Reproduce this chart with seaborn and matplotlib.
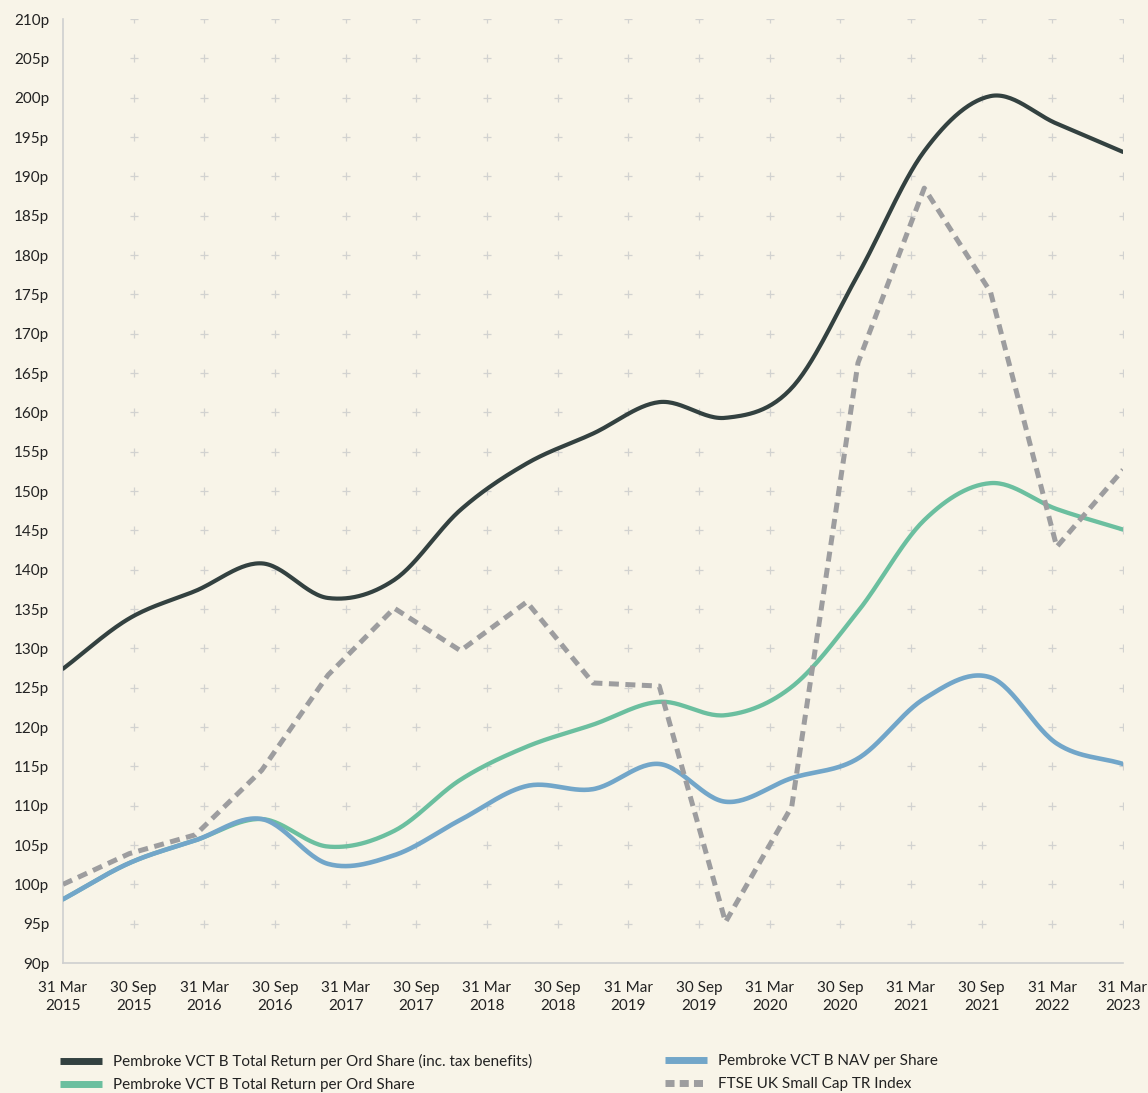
#!/usr/bin/env python3
"""
Pembroke VCT B performance chart - half-yearly returns vs FTSE UK Small Cap
"""

import numpy as np
import pandas as pd
import matplotlib
matplotlib.use("Agg")
import matplotlib.pyplot as plt
from matplotlib.lines import Line2D
import seaborn as sns

# X-axis labels (the 30 Sep 2022 label is absent in the original)
DATE_LABELS = [
    "31 Mar\n2015", "30 Sep\n2015", "31 Mar\n2016", "30 Sep\n2016",
    "31 Mar\n2017", "30 Sep\n2017", "31 Mar\n2018", "30 Sep\n2018",
    "31 Mar\n2019", "30 Sep\n2019", "31 Mar\n2020", "30 Sep\n2020",
    "31 Mar\n2021", "30 Sep\n2021", "31 Mar\n2022", "31 Mar\n2023",
]

# Half-yearly data points, Mar 2015 .. Mar 2023 (pence)
PERIODS = np.arange(17)
TOTAL_RETURN_TAX = [127.4, 133.8, 137.3, 140.8, 136.4, 138.7, 147.6, 153.5, 157.3,
                    161.3, 159.3, 163.1, 177.5, 193.2, 200.2, 196.7, 193.1]
TOTAL_RETURN = [98.1, 102.7, 105.6, 108.3, 104.8, 106.8, 113.3, 117.5, 120.3,
                123.2, 121.5, 125.1, 134.7, 146.3, 151.0, 147.7, 145.1]
NAV = [98.1, 102.7, 105.6, 108.3, 102.6, 103.7, 108.2, 112.5, 112.1,
       115.3, 110.5, 113.5, 116.0, 123.6, 126.3, 117.9, 115.3]
FTSE_SMALL_CAP = [100.0, 103.9, 106.3, 114.5, 126.6, 135.1, 129.7, 135.9, 125.6,
                  125.2, 95.2, 109.9, 166.3, 188.5, 175.3, 142.9, 152.7]

SERIES_NAMES = [
    "Pembroke VCT B Total Return per Ord Share (inc. tax benefits)",
    "Pembroke VCT B Total Return per Ord Share",
    "Pembroke VCT B NAV per Share",
    "FTSE UK Small Cap TR Index",
]

BG = "#f8f4e8"
DARK = "#334140"
GREEN = "#6bbf9f"
BLUE = "#72a6c9"
GREY = "#9d9d9f"
AXIS = "#cfcfcf"


def smooth_curve(x, y, steps=30):
    """Catmull-Rom style cubic through the points, for drawing only"""
    x = np.asarray(x, float)
    y = np.asarray(y, float)
    m = np.gradient(y)
    xs, ys = [], []
    for i in range(len(x) - 1):
        t = np.linspace(0, 1, steps, endpoint=False)
        h00 = 2 * t**3 - 3 * t**2 + 1
        h10 = t**3 - 2 * t**2 + t
        h01 = -2 * t**3 + 3 * t**2
        h11 = t**3 - t**2
        xs.append(x[i] + t * (x[i + 1] - x[i]))
        ys.append(h00 * y[i] + h10 * m[i] + h01 * y[i + 1] + h11 * m[i + 1])
    xs.append([x[-1]])
    ys.append([y[-1]])
    return pd.DataFrame({"x": np.concatenate(xs), "y": np.concatenate(ys)})


def main():
    sns.set_style("white")
    plt.rcParams["font.family"] = ["Lato", "DejaVu Sans"]

    fig = plt.figure(figsize=(11.48, 10.93), dpi=100, facecolor=BG)
    ax = fig.add_axes([63 / 1148, 130 / 1093, 1060 / 1148, 944 / 1093])
    ax.set_facecolor(BG)

    # "+" grid marks at tick intersections
    tick_pos = np.linspace(0, 16, len(DATE_LABELS))
    y_ticks = np.arange(90, 211, 5)
    gx, gy = np.meshgrid(tick_pos[1:], y_ticks[1:])
    ax.scatter(gx.ravel(), gy.ravel(), marker="+", s=36, color="#d2d2d0",
               linewidths=0.9, zorder=1)

    sns.lineplot(data=smooth_curve(PERIODS, TOTAL_RETURN_TAX), x="x", y="y",
                 color=DARK, lw=3.0, ax=ax, sort=False, estimator=None, zorder=3)
    sns.lineplot(data=smooth_curve(PERIODS, TOTAL_RETURN), x="x", y="y",
                 color=GREEN, lw=3.1, ax=ax, sort=False, estimator=None, zorder=3)
    sns.lineplot(data=smooth_curve(PERIODS, NAV), x="x", y="y",
                 color=BLUE, lw=3.3, ax=ax, sort=False, estimator=None, zorder=4)
    ftse = pd.DataFrame({"x": PERIODS, "y": FTSE_SMALL_CAP})
    sns.lineplot(data=ftse, x="x", y="y", color=GREY, lw=3.6, ax=ax,
                 sort=False, estimator=None, zorder=5,
                 linestyle=(0, (2.0, 1.3)), dash_capstyle="butt")

    ax.set_xlim(0, 16)
    ax.set_ylim(90, 210)
    ax.set_xticks(tick_pos)
    ax.set_xticklabels(DATE_LABELS, fontsize=11, color="#222222", linespacing=1.32)
    ax.set_yticks(y_ticks)
    ax.set_yticklabels([f"{v}p" for v in y_ticks], fontsize=11, color="#222222")
    ax.set_xlabel("")
    ax.set_ylabel("")
    ax.tick_params(axis="both", length=6, width=1, color=AXIS, pad=4)
    ax.tick_params(axis="x", pad=7)

    for side in ["top", "right"]:
        ax.spines[side].set_visible(False)
    for side in ["left", "bottom"]:
        ax.spines[side].set_color(AXIS)
        ax.spines[side].set_linewidth(1.2)

    # Legend: two columns along the bottom
    colors = [DARK, GREEN, BLUE, GREY]
    handles = []
    for i, (name, c) in enumerate(zip(SERIES_NAMES, colors)):
        ls = (0, (1.3, 0.75)) if i == 3 else "-"
        handles.append(Line2D([], [], color=c, lw=5, ls=ls, label=name,
                              solid_capstyle="butt", dash_capstyle="butt"))
    for cols, x0 in [((0, 1), 60), ((2, 3), 665)]:
        fig.legend(handles=[handles[c] for c in cols], loc="upper left",
                   bbox_to_anchor=(x0 / 1148, 1 - 1054 / 1093), frameon=False,
                   fontsize=11, handlelength=2.75, handletextpad=0.7,
                   labelspacing=0.6, borderpad=0, borderaxespad=0,
                   labelcolor="#222222")

    fig.savefig("out.png", dpi=100, facecolor=BG)
    plt.close(fig)


if __name__ == "__main__":
    main()
